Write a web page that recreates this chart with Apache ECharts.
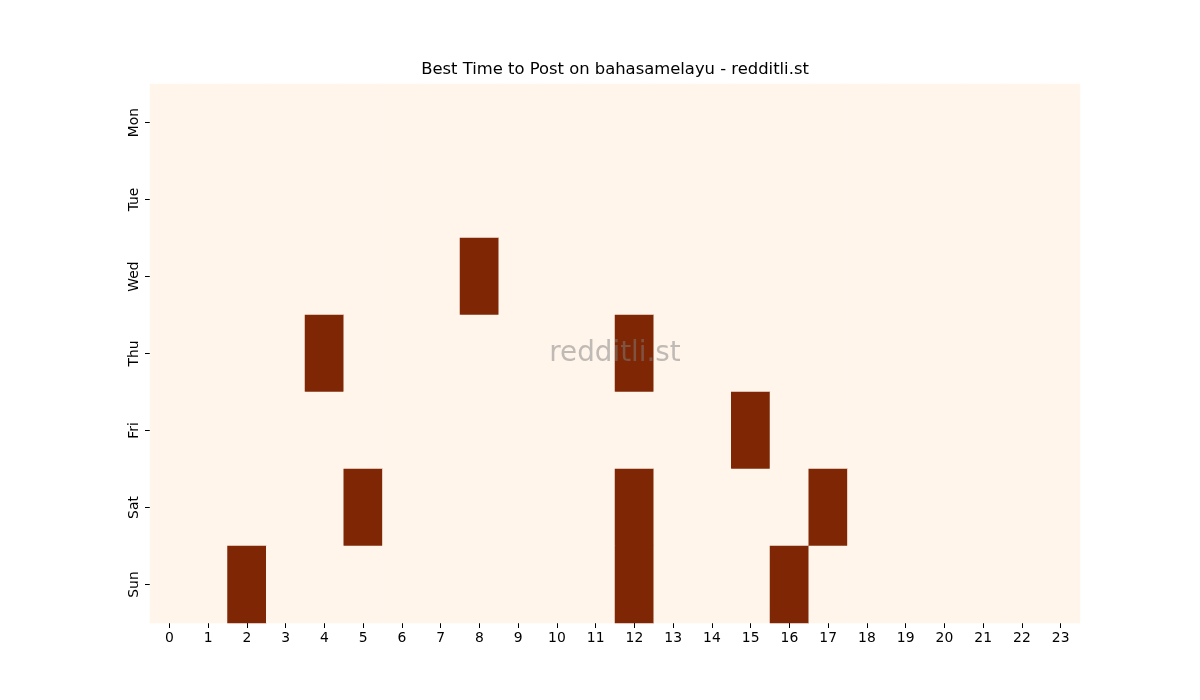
<!DOCTYPE html>
<html>
<head>
<meta charset="utf-8">
<script src="https://cdn.jsdelivr.net/npm/echarts@6/dist/echarts.min.js"></script>
<style>html,body{margin:0;padding:0;background:#fff}#c{width:1200px;height:700px}</style>
</head>
<body>
<div id="c"></div>
<script>
const hours = ['0','1','2','3','4','5','6','7','8','9','10','11','12','13','14','15','16','17','18','19','20','21','22','23'];
const days = ['Mon','Tue','Wed','Thu','Fri','Sat','Sun'];
// hours with top posting activity per day
const wedHot = [8];
const thuHot = [4, 12];
const friHot = [15];
const satHot = [5, 12, 17];
const sunHot = [2, 12, 16];
const hotByDay = {Mon: [], Tue: [], Wed: wedHot, Thu: thuHot, Fri: friHot, Sat: satHot, Sun: sunHot};

const data = [];
days.forEach((d, di) => {
  hours.forEach((h, hi) => {
    data.push([hi, di, hotByDay[d].includes(hi) ? 1 : 0]);
  });
});

const chart = echarts.init(document.getElementById('c'));
chart.setOption({
  animation: false,
  backgroundColor: '#ffffff',
  textStyle: {fontFamily: 'DejaVu Sans'},
  graphic: [{
    type: 'text', x: 615, y: 70, z: 100,
    style: {
      text: 'Best Time to Post on bahasamelayu - redditli.st', align: 'center', verticalAlign: 'middle',
      font: '16.4px "DejaVu Sans"', fill: '#000'
    }
  }, {
    type: 'text', x: 615, y: 354, z: 100,
    style: {
      text: 'redditli.st', align: 'center', verticalAlign: 'middle',
      font: '27.8px "DejaVu Sans"', fill: 'rgba(128,128,128,0.5)'
    }
  }],
  grid: {left: 150, right: 120, top: 84, bottom: 77},
  xAxis: {
    type: 'category', data: hours,
    axisLine: {show: false},
    axisTick: {show: true, alignWithLabel: true, length: 5, lineStyle: {color: '#000'}},
    axisLabel: {color: '#000', fontSize: 13.9, margin: 8, fontFamily: 'DejaVu Sans'},
    splitLine: {show: false}
  },
  yAxis: {
    type: 'category', data: days, inverse: true,
    axisLine: {show: false},
    axisTick: {show: true, alignWithLabel: true, length: 5, lineStyle: {color: '#000'}},
    axisLabel: {color: '#000', fontSize: 13.9, rotate: 90, margin: 9, fontFamily: 'DejaVu Sans'},
    splitLine: {show: false}
  },
  visualMap: {
    show: false, min: 0, max: 1, dimension: 2,
    inRange: {color: ['#fff5eb', '#7f2704']}
  },
  series: [{
    type: 'heatmap', data: data,
    itemStyle: {borderWidth: 0},
    emphasis: {disabled: true}
  }]
});
</script>
</body>
</html>
